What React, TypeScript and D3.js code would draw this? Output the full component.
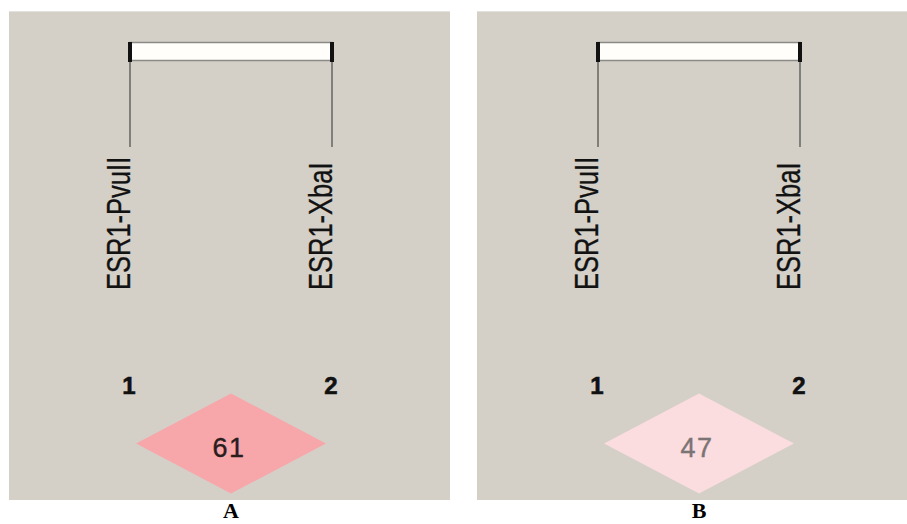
import * as d3 from "d3";
import { useEffect, useRef } from "react";

// markers shown in both panels
const markerNames = ["ESR1-PvuII", "ESR1-XbaI"];
const markerNumbers = ["1", "2"];
// one panel per group, D' value (x100) for the single marker pair
const panelLabels = ["A", "B"];
const pairValues = [61, 47];
const diamondColors = ["#f7a6a9", "#fbdcdf"];
const valueColors = ["#2a1d1d", "#7a7474"];

const W = 907;
const H = 524;

const App = () => {
  const svgRef = useRef<SVGSVGElement>(null);

  useEffect(() => {
    const svg = d3.select(svgRef.current);
    svg.selectAll("*").remove();

    const panelX = d3.scalePoint<string>().domain(panelLabels).range([9, 477]);
    const panelW = 441;
    const top = 11;
    const bottom = 500;

    // marker positions inside a panel
    const mx = d3
      .scalePoint<string>()
      .domain(markerNames)
      .range([121, 323]);

    panelLabels.forEach((p, pi) => {
      const g = svg
        .append("g")
        .attr("transform", `translate(${panelX(p)},0)`);

      g.append("rect")
        .attr("x", 0)
        .attr("y", top)
        .attr("width", panelW)
        .attr("height", bottom - top)
        .attr("fill", "#d4d0c8");
      g.append("line")
        .attr("x1", 0)
        .attr("x2", panelW)
        .attr("y1", top + 0.5)
        .attr("y2", top + 0.5)
        .attr("stroke", "#e4e2dc");

      const x0 = mx(markerNames[0])!;
      const x1 = mx(markerNames[markerNames.length - 1])!;

      // chromosome bar
      g.append("rect")
        .attr("x", x0)
        .attr("y", 42.5)
        .attr("width", x1 - x0)
        .attr("height", 18)
        .attr("fill", "#fffefb")
        .attr("stroke", "#8a8a86")
        .attr("stroke-width", 1.5);

      markerNames.forEach((m, i) => {
        const x = mx(m)!;
        g.append("line")
          .attr("x1", x)
          .attr("x2", x)
          .attr("y1", 42)
          .attr("y2", 62)
          .attr("stroke", "#111")
          .attr("stroke-width", 4);
        g.append("line")
          .attr("x1", x)
          .attr("x2", x)
          .attr("y1", 62)
          .attr("y2", 147)
          .attr("stroke", "#6b6b68")
          .attr("stroke-width", 1.6);

        g.append("text")
          .attr("transform", `translate(${x},${290}) rotate(-90) scale(0.88,1.12)`)
          .attr("font-family", "Liberation Sans, Arial, sans-serif")
          .attr("font-size", 29)
          .attr("fill", "#121212")
          .attr("stroke", "#121212")
          .attr("stroke-width", 0.3)
          .text(m);

        g.append("text")
          .attr("x", x - 1)
          .attr("y", 394)
          .attr("text-anchor", "middle")
          .attr("font-family", "Liberation Sans, Arial, sans-serif")
          .attr("font-weight", "bold")
          .attr("font-size", 24)
          .attr("fill", "#111")
          .attr("stroke", "#111")
          .attr("stroke-width", 0.6)
          .text(markerNumbers[i]);
      });

      // LD diamond for the pair
      const cx = (x0 + x1) / 2;
      const hw = ((x1 - x0) / 2) * 0.94;
      const cy = 443.5;
      const hh = 50;
      const pts: [number, number][] = [
        [cx, cy - hh],
        [cx + hw, cy],
        [cx, cy + hh],
        [cx - hw, cy],
      ];
      g.append("path")
        .attr("d", d3.line()(pts) + "Z")
        .attr("fill", diamondColors[pi]);

      g.append("text")
        .attr("x", cx - 2)
        .attr("y", cy + 13)
        .attr("text-anchor", "middle")
        .attr("font-family", "Liberation Sans, Arial, sans-serif")
        .attr("font-size", 27)
        .attr("letter-spacing", 1.5)
        .attr("fill", valueColors[pi])
        .attr("stroke", valueColors[pi])
        .attr("stroke-width", 0.4)
        .text(String(pairValues[pi]));

      // panel caption
      g.append("text")
        .attr("x", cx)
        .attr("y", 518)
        .attr("text-anchor", "middle")
        .attr("font-family", "Liberation Serif, Times New Roman, serif")
        .attr("font-weight", "bold")
        .attr("font-size", 22)
        .attr("fill", "#000")
        .text(p);
    });
  }, []);

  return (
    <svg
      ref={svgRef}
      width={W}
      height={H}
      style={{ position: "absolute", left: 0, top: 0, background: "#fff" }}
    />
  );
};

export default App;
